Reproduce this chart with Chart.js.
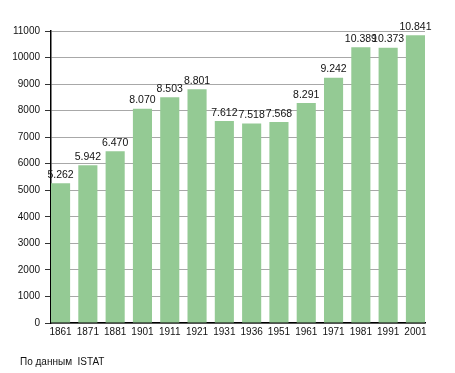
<!DOCTYPE html>
<html>
<head>
<meta charset="utf-8">
<script src="https://cdn.jsdelivr.net/npm/chart.js@4"></script>
<style>
  html, body { margin: 0; padding: 0; background: #fff; }
  #wrap { width: 455px; height: 373px; position: relative; }
</style>
</head>
<body>
<div id="wrap"><canvas id="popChart" width="455" height="373"></canvas></div>
<script>
const years = ["1861", "1871", "1881", "1901", "1911", "1921", "1931", "1936", "1951", "1961", "1971", "1981", "1991", "2001"];
const population = [5262, 5942, 6470, 8070, 8503, 8801, 7612, 7518, 7568, 8291, 9242, 10389, 10373, 10841];
const yTicks = [0, 1000, 2000, 3000, 4000, 5000, 6000, 7000, 8000, 9000, 10000, 11000];
const sourceNote = "По данным  ISTAT";

const FONT = "'Liberation Sans', Arial, sans-serif";

function fmt(v) {
  return String(v).replace(/\B(?=(\d{3})+(?!\d))/g, ".");
}

const valueLabels = {
  id: "valueLabels",
  afterDatasetsDraw(chart) {
    const ctx = chart.ctx;
    const meta = chart.getDatasetMeta(0);
    ctx.save();
    ctx.font = "10.5px " + FONT;
    ctx.fillStyle = "#111";
    ctx.textAlign = "center";
    ctx.textBaseline = "bottom";
    meta.data.forEach((bar, i) => {
      ctx.fillText(fmt(population[i]), bar.x, bar.y - 3);
    });
    ctx.restore();
  }
};

const footNote = {
  id: "footNote",
  afterDraw(chart) {
    const ctx = chart.ctx;
    ctx.save();
    ctx.font = "10px " + FONT;
    ctx.fillStyle = "#111";
    ctx.textAlign = "left";
    ctx.textBaseline = "middle";
    ctx.fillText(sourceNote, 20, 362);
    ctx.restore();
  }
};

const ctx = document.getElementById("popChart").getContext("2d");

new Chart(ctx, {
  type: "bar",
  data: {
    datasets: [
      {
        data: population.map((v, i) => ({ x: i, y: v })),
        backgroundColor: "#94ca94",
        borderWidth: 0,
        categoryPercentage: 1,
        barPercentage: 0.7
      }
    ]
  },
  options: {
    responsive: false,
    animation: false,
    layout: { padding: { top: 31, right: 30, left: 0, bottom: 20 } },
    plugins: {
      legend: { display: false },
      tooltip: { enabled: false }
    },
    scales: {
      x: {
        type: "linear",
        offset: false,
        min: -0.35,
        max: years.length - 1 + 0.35,
        afterBuildTicks(scale) {
          scale.ticks = years.map((y, i) => ({ value: i }));
        },
        afterFit(scale) { scale.height = 30; },
        ticks: {
          autoSkip: false,
          maxRotation: 0,
          padding: 3,
          color: "#111",
          font: { family: FONT, size: 10 },
          callback: (v) => years[v]
        },
        grid: { display: false, drawTicks: false },
        border: { display: true, color: "#000", width: 1.5 }
      },
      y: {
        min: 0,
        max: 11000,
        afterBuildTicks(scale) {
          const t = [];
          for (let v = 0; v <= 11000; v += 500) t.push({ value: v });
          scale.ticks = t;
        },
        afterFit(scale) { scale.width = 51; },
        ticks: {
          padding: 5,
          color: "#111",
          font: { family: FONT, size: 10 },
          callback: (v) => (yTicks.includes(v) ? String(v) : "")
        },
        grid: {
          color: (c) => (c.tick && c.tick.value % 1000 === 0 ? "#a8a8a8" : "#e2e2e2"),
          tickColor: "#333",
          tickLength: 6,
          lineWidth: 1
        },
        border: { display: true, color: "#000", width: 1.5 }
      }
    }
  },
  plugins: [valueLabels, footNote]
});
</script>
</body>
</html>
